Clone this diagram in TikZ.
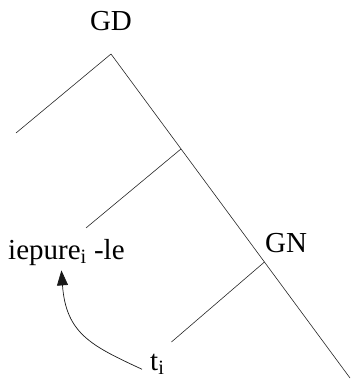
\documentclass[tikz,border=0pt]{standalone}
\usepackage{fontspec}
\setmainfont{Liberation Serif}
\usetikzlibrary{arrows.meta,calc}

\begin{document}
\begin{tikzpicture}[
  x=1pt, y=-1pt,
  word/.style={font=\fontsize{29}{34}\selectfont, inner sep=0pt, anchor=base},
  branch/.style={line width=0.6pt, black!85},
  move/.style={-{Triangle[length=15pt, width=11pt]}, line width=0.7pt, black!90}
]
\useasboundingbox (0,0) rectangle (353,380);

% tree
\coordinate (top) at (111, 54);
\coordinate (bot) at (350, 378);
\coordinate (v2) at ($(top)!0.293!(bot)$);
\coordinate (v3) at ($(top)!0.642!(bot)$);
\coordinate (a1) at ($(top)+(-95, 79)$);
\coordinate (a2) at ($(v2)+(-95, 79)$);
\coordinate (a3) at ($(v3)+(-93, 80)$);

\draw[branch] (top) -- (bot);
\draw[branch] (top) -- (a1);
\draw[branch] (v2) -- (a2);
\draw[branch] (v3) -- (a3);

% labels
\node[word] (gd) at (111, 30) {GD};
\node[word, anchor=base west] (gn) at (265, 252) {GN};
\node[word, anchor=base west] (ie) at (8, 259) {iepure\textsubscript{i} -le};
\node[word, anchor=base west] (ti) at (150, 370) {t\textsubscript{i}};

% movement
\draw[move] ([xshift=-8pt, yshift=-5pt]ti.west) .. controls (92, 346) and (66, 334) .. ([xshift=-5pt, yshift=-5pt]ie.south);
\end{tikzpicture}
\end{document}
